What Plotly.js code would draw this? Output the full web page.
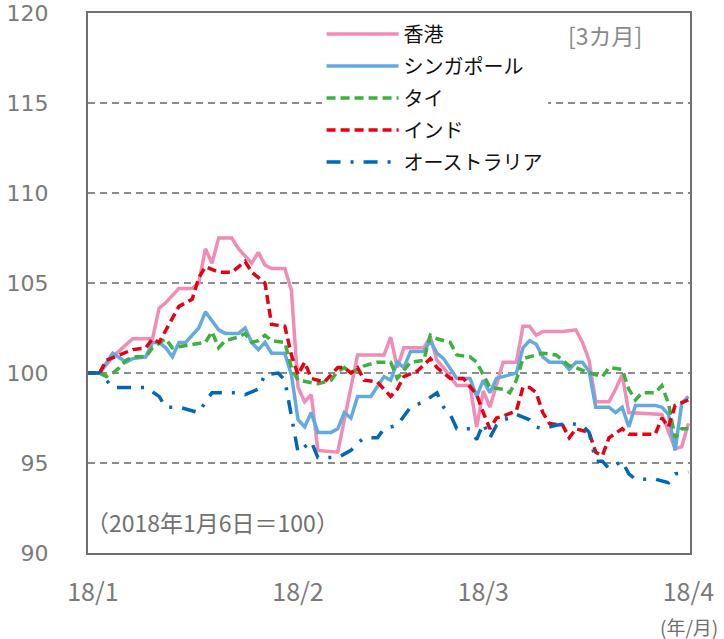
<!DOCTYPE html>
<html>
<head>
<meta charset="utf-8">
<script src="https://cdn.plot.ly/plotly-3.0.1.min.js"></script>
<style>html,body{margin:0;padding:0;background:#fff;}#chart{width:724px;height:639px;}</style>
</head>
<body>
<div id="chart"></div>
<script>
// ---- data (index, 2018-01-06 = 100) ----
const seriesNames = ['香港', 'シンガポール', 'タイ', 'インド', 'オーストラリア'];

const hkDates = ['2017-12-31','2018-01-02','2018-01-04','2018-01-07','2018-01-10','2018-01-11','2018-01-12','2018-01-14','2018-01-16','2018-01-17','2018-01-18','2018-01-19','2018-01-20','2018-01-22','2018-01-23','2018-01-25','2018-01-26','2018-01-27','2018-01-28','2018-01-30','2018-01-31','2018-02-01','2018-02-02','2018-02-03','2018-02-04','2018-02-07','2018-02-10','2018-02-14','2018-02-15','2018-02-16','2018-02-17','2018-02-20','2018-02-21','2018-02-22','2018-02-23','2018-02-25','2018-02-27','2018-02-28','2018-03-01','2018-03-02','2018-03-04','2018-03-06','2018-03-07','2018-03-08','2018-03-09','2018-03-10','2018-03-13','2018-03-15','2018-03-16','2018-03-17','2018-03-18','2018-03-20','2018-03-21','2018-03-22','2018-03-23','2018-03-28','2018-03-30','2018-03-31','2018-04-01'];
const hkValues = [100,100,100.9,101.9,101.9,103.6,103.9,104.7,104.7,105.0,106.9,106.1,107.5,107.5,106.9,106.1,106.7,106.0,105.8,105.8,104.6,99.2,98.4,98.8,95.7,95.6,101.0,101.0,102.0,100.3,101.4,101.4,102.0,100.7,100.3,99.3,99.3,97.0,99.0,98.1,100.6,100.6,102.6,102.6,102.1,102.3,102.3,102.4,101.7,100.7,98.4,98.4,99.1,99.9,97.8,97.7,95.8,95.9,97.2];

const sgDates = ['2017-12-31','2018-01-02','2018-01-04','2018-01-06','2018-01-07','2018-01-09','2018-01-10','2018-01-11','2018-01-12','2018-01-13','2018-01-14','2018-01-15','2018-01-17','2018-01-18','2018-01-20','2018-01-21','2018-01-23','2018-01-24','2018-01-25','2018-01-26','2018-01-27','2018-01-28','2018-01-30','2018-01-31','2018-02-01','2018-02-02','2018-02-03','2018-02-04','2018-02-06','2018-02-07','2018-02-08','2018-02-09','2018-02-10','2018-02-12','2018-02-14','2018-02-15','2018-02-16','2018-02-17','2018-02-18','2018-02-20','2018-02-21','2018-02-22','2018-02-23','2018-02-25','2018-02-27','2018-02-28','2018-03-01','2018-03-02','2018-03-03','2018-03-04','2018-03-06','2018-03-07','2018-03-08','2018-03-09','2018-03-10','2018-03-11','2018-03-13','2018-03-14','2018-03-15','2018-03-16','2018-03-17','2018-03-18','2018-03-20','2018-03-21','2018-03-22','2018-03-23','2018-03-24','2018-03-27','2018-03-28','2018-03-29','2018-03-30','2018-03-31','2018-04-01'];
const sgValues = [100,100,101.1,100.6,100.8,100.9,101.7,101.7,101.4,100.9,101.7,101.7,102.5,103.4,102.4,102.2,102.2,102.5,101.7,101.3,101.7,101.1,101.1,99.9,97.4,97.0,97.8,96.7,96.7,96.9,97.8,97.5,98.7,98.7,99.8,99.6,100.6,100.3,101.2,101.2,101.8,101.1,100.8,99.7,99.7,98.7,99.6,98.9,99.7,99.8,100.0,101.4,101.8,101.6,100.9,100.6,100.6,100.2,100.6,100.6,100.1,98.1,98.1,97.8,98.1,97.0,98.2,98.2,98.1,97.7,95.7,98.3,98.7];

const thDates = ['2017-12-31','2018-01-02','2018-01-03','2018-01-04','2018-01-05','2018-01-06','2018-01-07','2018-01-09','2018-01-10','2018-01-12','2018-01-13','2018-01-16','2018-01-18','2018-01-19','2018-01-20','2018-01-21','2018-01-23','2018-01-24','2018-01-25','2018-01-26','2018-01-27','2018-01-28','2018-01-30','2018-01-31','2018-02-01','2018-02-04','2018-02-06','2018-02-07','2018-02-08','2018-02-09','2018-02-11','2018-02-13','2018-02-15','2018-02-16','2018-02-18','2018-02-20','2018-02-21','2018-02-22','2018-02-24','2018-02-25','2018-02-27','2018-02-28','2018-03-01','2018-03-02','2018-03-04','2018-03-05','2018-03-06','2018-03-07','2018-03-09','2018-03-10','2018-03-12','2018-03-14','2018-03-15','2018-03-17','2018-03-19','2018-03-20','2018-03-22','2018-03-23','2018-03-24','2018-03-25','2018-03-27','2018-03-28','2018-03-29','2018-03-30','2018-03-31','2018-04-01'];
const thValues = [100,100,99.8,100.0,100.3,100.7,100.9,100.9,101.4,101.9,101.4,101.6,101.7,102.3,101.4,101.8,102.0,102.2,101.7,101.8,102.1,101.8,101.7,100.3,99.6,99.4,99.6,100.1,100.3,100.0,100.4,100.6,100.6,99.7,100.6,100.7,102.1,101.9,101.7,101.0,100.9,100.6,99.9,99.2,99.1,98.9,99.6,100.8,101.0,101.1,101.0,100.4,100.3,100.0,99.8,100.3,100.2,99.1,98.5,98.9,98.9,99.3,98.3,96.4,96.9,96.9];

const inDates = ['2017-12-31','2018-01-02','2018-01-03','2018-01-05','2018-01-07','2018-01-09','2018-01-10','2018-01-11','2018-01-12','2018-01-14','2018-01-16','2018-01-17','2018-01-18','2018-01-20','2018-01-22','2018-01-24','2018-01-25','2018-01-26','2018-01-27','2018-01-28','2018-01-30','2018-01-31','2018-02-01','2018-02-02','2018-02-03','2018-02-05','2018-02-07','2018-02-08','2018-02-09','2018-02-10','2018-02-11','2018-02-13','2018-02-15','2018-02-16','2018-02-17','2018-02-19','2018-02-21','2018-02-22','2018-02-23','2018-02-24','2018-02-26','2018-02-28','2018-03-01','2018-03-02','2018-03-03','2018-03-04','2018-03-06','2018-03-07','2018-03-08','2018-03-09','2018-03-10','2018-03-11','2018-03-13','2018-03-14','2018-03-15','2018-03-17','2018-03-18','2018-03-19','2018-03-20','2018-03-22','2018-03-23','2018-03-27','2018-03-28','2018-03-29','2018-03-30','2018-04-01'];
const inValues = [100,100.0,100.7,101.0,101.3,101.4,101.9,101.7,102.4,103.7,104.1,105.3,105.9,105.6,105.6,106.2,105.6,105.3,105.0,102.7,102.6,101.0,99.9,100.6,99.7,99.5,100.3,100.3,100.0,100.3,99.6,99.5,98.7,99.1,99.8,100.1,100.8,100.3,100.0,99.7,99.7,98.8,97.8,96.9,97.5,97.6,97.9,99.2,99.2,98.9,97.8,97.2,97.1,96.4,96.9,96.7,95.6,95.4,96.4,96.9,96.6,96.6,97.5,97.0,98.2,98.5];

const auDates = ['2017-12-31','2018-01-02','2018-01-04','2018-01-07','2018-01-09','2018-01-11','2018-01-12','2018-01-14','2018-01-17','2018-01-18','2018-01-19','2018-01-21','2018-01-23','2018-01-24','2018-01-26','2018-01-27','2018-01-29','2018-01-30','2018-01-31','2018-02-01','2018-02-02','2018-02-03','2018-02-04','2018-02-05','2018-02-07','2018-02-09','2018-02-10','2018-02-11','2018-02-13','2018-02-14','2018-02-16','2018-02-17','2018-02-18','2018-02-20','2018-02-22','2018-02-23','2018-02-24','2018-02-25','2018-02-27','2018-02-28','2018-03-01','2018-03-02','2018-03-03','2018-03-04','2018-03-05','2018-03-06','2018-03-08','2018-03-09','2018-03-10','2018-03-12','2018-03-14','2018-03-16','2018-03-17','2018-03-18','2018-03-19','2018-03-20','2018-03-22','2018-03-23','2018-03-24','2018-03-27','2018-03-29','2018-03-30','2018-04-01'];
const auValues = [100,100,99.2,99.2,99.2,98.7,98.1,98.1,97.8,98.4,98.9,98.9,98.9,98.8,99.1,99.9,100.0,99.6,97.5,95.6,95.9,96.2,95.3,95.3,95.3,95.7,96.1,96.4,96.4,96.9,97.1,97.6,98.1,98.4,98.9,98.1,97.7,96.9,96.9,96.3,97.2,96.4,97.1,97.4,97.5,97.7,97.4,97.0,96.9,97.1,97.2,97.1,96.7,95.1,95.1,94.7,95.1,94.4,94.1,94.1,93.9,94.4,94.5];

const xTickVals = ['2018-01-01', '2018-02-01', '2018-03-01', '2018-04-01'];
const xTickText = ['18/1', '18/2', '18/3', '18/4'];
const yTickVals = [90, 95, 100, 105, 110, 115, 120];

// ---- styling ----
const colors = ['#F08CB6', '#65AADF', '#3DB03D', '#E60012', '#0068B7'];
const dashes = ['solid', 'solid', '9px,5px', '9px,5px', '14px,10px,3px,10px'];
const xs = [hkDates, sgDates, thDates, inDates, auDates];
const ys = [hkValues, sgValues, thValues, inValues, auValues];

const traces = seriesNames.map((n, i) => ({
  type: 'scatter', mode: 'lines', name: n, legendgroup: 'g' + i,
  x: xs[i], y: ys[i],
  line: {color: colors[i], width: 3.5, dash: dashes[i]},
  hoverinfo: 'x+y+name'
}));

const layout = {
  width: 724, height: 639,
  margin: {l: 88, r: 34, t: 13, b: 86, pad: 0},
  paper_bgcolor: '#ffffff', plot_bgcolor: '#ffffff',
  showlegend: true,
  legend: {
    x: 0.388, y: 0.997, xanchor: 'left', yanchor: 'top',
    bgcolor: '#ffffff', borderwidth: 0, traceorder: 'grouped',
    font: {family: 'Noto Sans CJK JP, sans-serif', size: 20, color: '#111111'},
    itemwidth: 72, tracegroupgap: 3
  },
  xaxis: {
    type: 'date',
    range: ['2017-12-31 06:00', '2018-04-01 06:00'],
    tickmode: 'array', tickvals: xTickVals, ticktext: xTickText,
    showgrid: false, zeroline: false,
    showline: true, mirror: true, linecolor: '#707070', linewidth: 2,
    ticks: '', ticklabelstandoff: 16,
    tickfont: {family: 'Noto Sans CJK JP, sans-serif', size: 25, color: '#7a7a7a'}
  },
  yaxis: {
    range: [90, 120],
    tickmode: 'array', tickvals: yTickVals,
    showgrid: true, gridcolor: '#8c8c8c', gridwidth: 1.5, griddash: '7px,5px',
    zeroline: false,
    showline: true, mirror: true, linecolor: '#707070', linewidth: 2,
    ticks: '', ticklabelstandoff: 33,
    tickfont: {family: 'DejaVu Sans, Verdana, sans-serif', size: 22, color: '#7a7a7a'}
  },
  annotations: [
    {text: '[3カ月]', xref: 'paper', yref: 'paper', x: 0.859, y: 0.959,
     xanchor: 'center', yanchor: 'middle', showarrow: false,
     font: {family: 'Noto Sans CJK JP, sans-serif', size: 23, color: '#8a8a8a'}},
    {text: '（2018年1月6日＝100）', xref: 'paper', yref: 'paper', x: -0.006, y: 0.0574,
     xanchor: 'left', yanchor: 'middle', showarrow: false,
     font: {family: 'Noto Sans CJK JP, sans-serif', size: 23, color: '#707070'}},
    {text: '(年/月)', xref: 'paper', yref: 'paper', x: 1.05, y: -0.137,
     xanchor: 'right', yanchor: 'middle', showarrow: false,
     font: {family: 'Noto Sans CJK JP, sans-serif', size: 19, color: '#707070'}}
  ]
};

Plotly.newPlot('chart', traces, layout, {displayModeBar: false, staticPlot: true});
</script>
</body>
</html>
